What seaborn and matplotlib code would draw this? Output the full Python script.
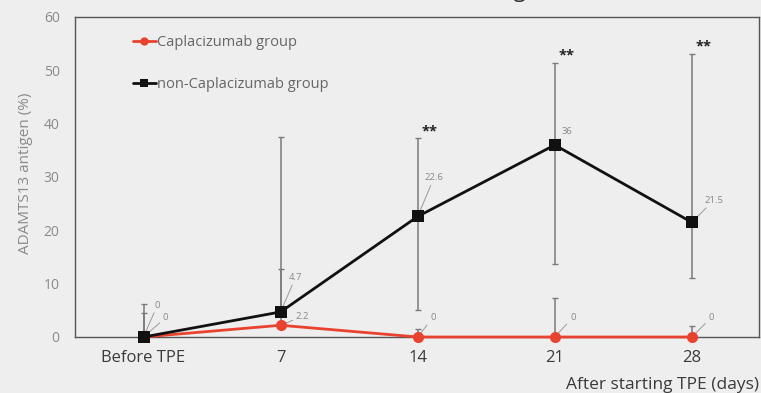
import matplotlib
matplotlib.use("Agg")
import matplotlib.pyplot as plt
import seaborn as sns
import pandas as pd
import numpy as np

# Time points
categories = ["Before TPE", "7", "14", "21", "28"]

# Median ADAMTS13 antigen (%)
capla_values = [0, 2.2, 0, 0, 0]
non_capla_values = [0, 4.7, 22.6, 36, 21.5]

# Error bar extents (absolute values)
capla_upper = [4.5, 12.7, 1.5, 7.3, 2.0]
capla_lower = [0, 2.2, 0, 0, 0]
non_capla_upper = [6.1, 37.5, 37.3, 51.4, 53.1]
non_capla_lower = [0, 4.7, 5.0, 13.7, 11.0]

# Significance markers
sig_labels = ["", "", "**", "**", "**"]

sns.set_theme(style="white")
plt.rcParams["font.family"] = ["Open Sans", "DejaVu Sans"]

bg = "#eeeeee"
red = "#e8432e"
black = "#111111"
fig = plt.figure(figsize=(7.61, 3.93), dpi=100, facecolor=bg)
ax = fig.add_axes([75 / 761, 1 - 337 / 393, 684 / 761, 320 / 393])
ax.set_facecolor(bg)

df = pd.DataFrame({
    "time": categories * 2,
    "value": capla_values + non_capla_values,
    "group": ["Caplacizumab group"] * 5 + ["non-Caplacizumab group"] * 5,
})

pos = np.arange(len(categories))
err_kw = dict(fmt="none", ecolor="#7a7a7a", elinewidth=1.1, capsize=2, capthick=1.0, zorder=2)

cv = np.array(capla_values)
ax.errorbar(pos, cv, yerr=[cv - np.array(capla_lower), np.array(capla_upper) - cv], **err_kw)
nv = np.array(non_capla_values)
ax.errorbar(pos, nv, yerr=[nv - np.array(non_capla_lower), np.array(non_capla_upper) - nv], **err_kw)

sns.lineplot(data=df, x="time", y="value", hue="group", style="group",
             palette={"Caplacizumab group": red, "non-Caplacizumab group": black},
             markers={"Caplacizumab group": "o", "non-Caplacizumab group": "s"},
             dashes=False, linewidth=2.0, markersize=8, markeredgewidth=0,
             sort=False, ax=ax, legend=True)
for ln in ax.get_lines():
    ln.set_clip_on(False)
    if ln.get_color() == black:
        ln.set_zorder(6)
    elif ln.get_color() == red:
        ln.set_zorder(5)

ax.set_xlim(-0.5, 4.49)
ax.set_ylim(0, 60)
ax.set_yticks([0, 10, 20, 30, 40, 50, 60])
ax.set_xticks(pos)
ax.set_xticklabels(categories)

for s in ax.spines.values():
    s.set_visible(True)
    s.set_color("#555555")
    s.set_linewidth(1.0)
    s.set_zorder(3)

ax.tick_params(axis="both", length=0)
ax.tick_params(axis="x", labelsize=12, labelcolor="#3a3a3a", pad=9)
ax.tick_params(axis="y", labelsize=10, labelcolor="#8a8a8a", pad=11)

ax.set_xlabel("After starting TPE (days)", fontsize=12.5, color="#3a3a3a")
ax.xaxis.set_label_coords(1.0, -0.125)
ax.xaxis.label.set_horizontalalignment("right")
ax.set_ylabel("ADAMTS13 antigen (%)", fontsize=11, color="#8a8a8a")
ax.yaxis.set_label_coords(-0.062, 0.51)

# Chart title, sitting right at the top edge of the canvas
fig.text(453 / 761, 1 + 3 / 393, "ADAMTS13 antigen", ha="center", va="baseline",
         fontsize=16, color="#333333")

# Value labels with leader lines
lab_kw = dict(fontsize=6.8, color="#888888",
              arrowprops=dict(arrowstyle="-", color="#9a9a9a", lw=0.7, shrinkA=0, shrinkB=3))
non_offsets = [(8, 23), (6, 25), (5, 28), (5, 10), (9, 16)]
capla_offsets = [(14, 14), (11, 6.5), (9, 14), (11, 14), (12, 14)]
for i, (v, off) in enumerate(zip(non_capla_values, non_offsets)):
    ax.annotate(f"{v:g}", xy=(i, v), xytext=off, textcoords="offset points",
                ha="left", va="center", annotation_clip=False, **lab_kw)
for i, (v, off) in enumerate(zip(capla_values, capla_offsets)):
    ax.annotate(f"{v:g}", xy=(i, v), xytext=off, textcoords="offset points",
                ha="left", va="center", annotation_clip=False, **lab_kw)

for i, s in enumerate(sig_labels):
    if s:
        ax.annotate(s, xy=(i, non_capla_upper[i]), xytext=(3, 0), textcoords="offset points",
                    ha="left", va="bottom", fontsize=10.5, fontweight="bold", color="#222222")

leg = ax.legend(loc="upper left", bbox_to_anchor=(0.065, 0.985), frameon=False,
                labelspacing=1.85, handlelength=1.6, handletextpad=0.1,
                fontsize=10.5, labelcolor="#666666", title=None)
for h in leg.legend_handles:
    h.set_markersize(6)

fig.savefig("out.png", dpi=100, facecolor=bg)
